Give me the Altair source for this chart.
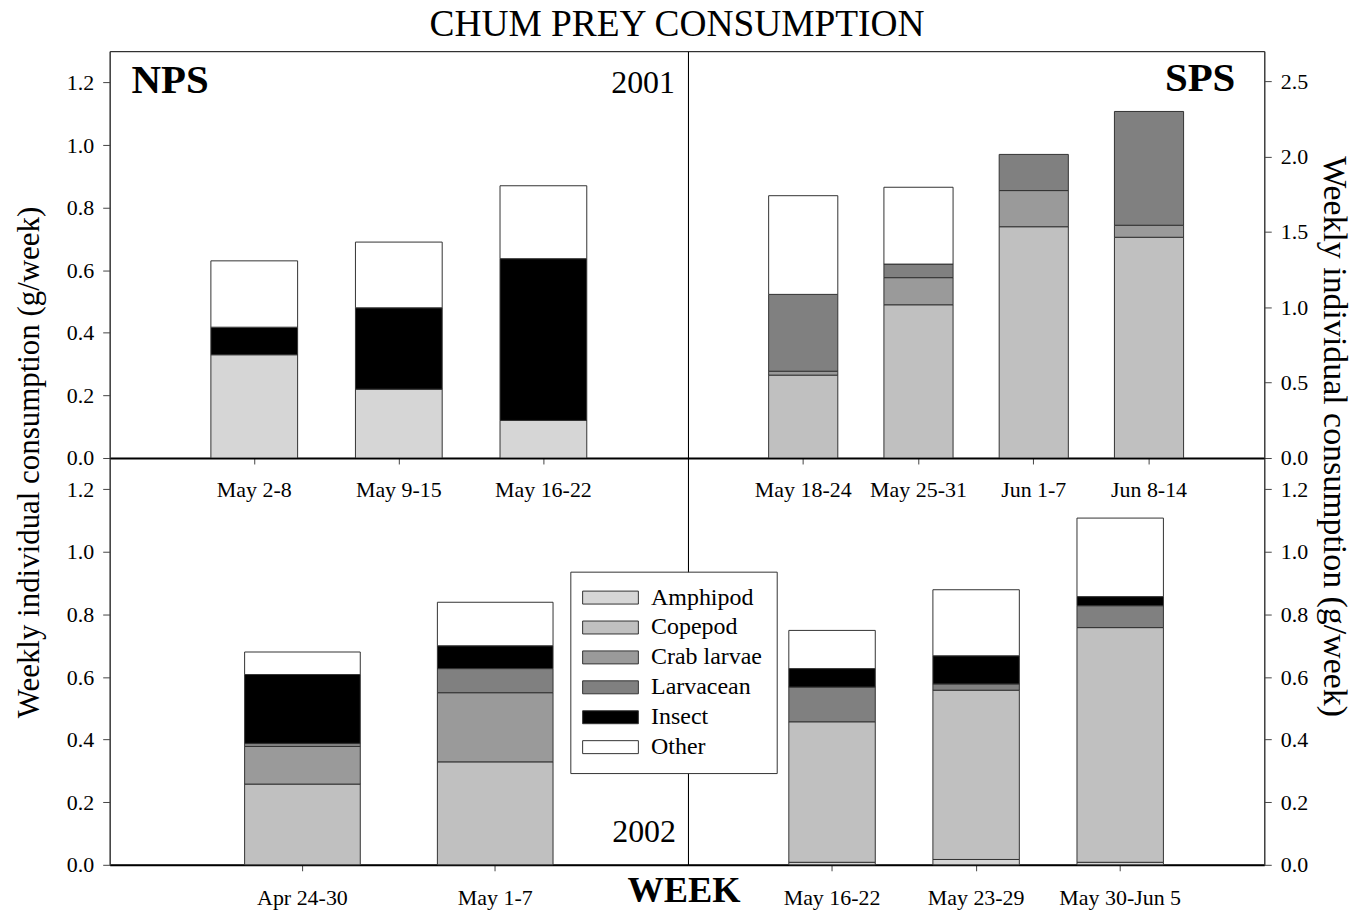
import altair as alt
import pandas as pd

FONT = "Liberation Serif"

PREY = ["Amphipod", "Copepod", "Crab larvae", "Larvacean", "Insect", "Other"]
SHADES = ["#d6d6d6", "#c0c0c0", "#9a9a9a", "#808080", "#000000", "#ffffff"]

# North Puget Sound, 2001 (g/week per fish, by prey group)
nps01_weeks = ["May 2-8", "May 9-15", "May 16-22"]
nps01_amphipod = [0.33, 0.22, 0.12]
nps01_copepod = [0.0, 0.0, 0.0]
nps01_crab = [0.0, 0.0, 0.0]
nps01_larvacean = [0.0, 0.0, 0.0]
nps01_insect = [0.088, 0.26, 0.517]
nps01_other = [0.212, 0.21, 0.233]

# South Puget Sound, 2001
sps01_weeks = ["May 18-24", "May 25-31", "Jun 1-7", "Jun 8-14"]
sps01_amphipod = [0.0, 0.0, 0.0, 0.0]
sps01_copepod = [0.55, 1.017, 1.535, 1.465]
sps01_crab = [0.026, 0.18, 0.24, 0.08]
sps01_larvacean = [0.51, 0.09, 0.24, 0.755]
sps01_insect = [0.0, 0.0, 0.0, 0.0]
sps01_other = [0.655, 0.51, 0.0, 0.0]

# North Puget Sound, 2002
nps02_weeks = ["Apr 24-30", "May 1-7"]
nps02_amphipod = [0.0, 0.0]
nps02_copepod = [0.258, 0.329]
nps02_crab = [0.12, 0.221]
nps02_larvacean = [0.01, 0.077]
nps02_insect = [0.22, 0.073]
nps02_other = [0.072, 0.139]

# South Puget Sound, 2002
sps02_weeks = ["May 16-22", "May 23-29", "May 30-Jun 5"]
sps02_amphipod = [0.008, 0.017, 0.008]
sps02_copepod = [0.449, 0.541, 0.75]
sps02_crab = [0.0, 0.0, 0.0]
sps02_larvacean = [0.111, 0.02, 0.07]
sps02_insect = [0.059, 0.09, 0.029]
sps02_other = [0.122, 0.211, 0.251]


def table(weeks, *groups):
    rows = []
    for i, wk in enumerate(weeks):
        for k, (name, vals) in enumerate(zip(PREY, groups)):
            if vals[i] > 0:
                rows.append({"week": wk, "prey": name, "rank": k, "value": vals[i]})
    return pd.DataFrame(rows)


LEGEND = alt.Legend(
    title=None,
    orient="none",
    legendX=462,
    legendY=522,
    direction="vertical",
    symbolType="M-2.1,-1H6.5V1H-2.1Z",
    symbolSize=169,
    symbolStrokeColor="#333333",
    symbolStrokeWidth=1,
    symbolOpacity=1,
    labelFont=FONT,
    labelFontSize=24,
    labelColor="black",
    labelOffset=43,
    rowPadding=6,
    padding=14,
    fillColor="white",
    strokeColor="#333333",
)


def label(text, x, y, size, align="left", weight="normal"):
    return alt.Chart(pd.DataFrame({"t": [text]})).mark_text(
        font=FONT, fontSize=size, fontWeight=weight, align=align,
        baseline="alphabetic", color="black",
    ).encode(x=alt.value(x), y=alt.value(y), text="t:N")


def panel(df, weeks, ymax, ticks, orient, width, ytitle=None, title_x=0, title_y=0,
          title_angle=270, title_size=31, label_pad=15):
    yaxis_kw = dict(
        orient=orient, values=ticks, format=".1f", grid=False, tickSize=7,
        labelPadding=9, labelFont=FONT, labelFontSize=22, labelColor="black",
        domainColor="#444444", tickColor="#444444",
    )
    if ytitle:
        yaxis_kw.update(
            title=ytitle, titleFont=FONT, titleFontSize=title_size,
            titleFontWeight="normal", titleColor="black", titleAngle=title_angle,
            titleX=title_x, titleY=title_y, titleAlign="center",
            titleBaseline="alphabetic",
        )
    else:
        yaxis_kw.update(title=None)
    return alt.Chart(df).mark_bar(stroke="#333333", strokeWidth=1).encode(
        x=alt.X(
            "week:N", sort=weeks,
            scale=alt.Scale(paddingInner=0.4, paddingOuter=0.7),
            axis=alt.Axis(
                title=None, labelAngle=0, tickSize=6, labelPadding=label_pad,
                labelFont=FONT, labelFontSize=22, labelColor="black",
                domainWidth=2, domainColor="black", tickColor="#444444",
            ),
        ),
        y=alt.Y(
            "value:Q", stack="zero",
            scale=alt.Scale(domain=[0, ymax], nice=False, zero=True),
            axis=alt.Axis(**yaxis_kw),
        ),
        color=alt.Color("prey:N", scale=alt.Scale(domain=PREY, range=SHADES), legend=LEGEND),
        order=alt.Order("rank:Q", sort="ascending"),
    ).properties(width=width, height=408)


TICKS_13 = [0.0, 0.2, 0.4, 0.6, 0.8, 1.0, 1.2]
TICKS_27 = [0.0, 0.5, 1.0, 1.5, 2.0, 2.5]
YTITLE = "Weekly individual consumption (g/week)"

nps01 = table(nps01_weeks, nps01_amphipod, nps01_copepod, nps01_crab,
              nps01_larvacean, nps01_insect, nps01_other)
sps01 = table(sps01_weeks, sps01_amphipod, sps01_copepod, sps01_crab,
              sps01_larvacean, sps01_insect, sps01_other)
nps02 = table(nps02_weeks, nps02_amphipod, nps02_copepod, nps02_crab,
              nps02_larvacean, nps02_insect, nps02_other)
sps02 = table(sps02_weeks, sps02_amphipod, sps02_copepod, sps02_crab,
              sps02_larvacean, sps02_insect, sps02_other)

top_left = alt.layer(
    panel(nps01, nps01_weeks, 1.3, TICKS_13, "left", 580, YTITLE,
          title_x=-71.5, title_y=412, title_angle=270, title_size=31, label_pad=16),
    label("NPS", 22, 42, 41, weight="bold"),
    label("2001", 567, 42, 32, align="right"),
    label("CHUM PREY CONSUMPTION", 569, -15, 37.5, align="center"),
)
top_right = alt.layer(
    panel(sps01, sps01_weeks, 2.7, TICKS_27, "right", 578, YTITLE,
          title_x=59, title_y=386, title_angle=90, title_size=34, label_pad=16),
    label("SPS", 549, 40, 41, align="right", weight="bold"),
)
bottom_left = alt.layer(
    panel(nps02, nps02_weeks, 1.3, TICKS_13, "left", 580, label_pad=17),
    label("2002", 568, 385, 32, align="right"),
    label("WEEK", 576, 445, 36.5, align="center", weight="bold"),
)
bottom_right = panel(sps02, sps02_weeks, 1.3, TICKS_13, "right", 578, label_pad=17)

chart = (
    alt.concat(top_left, top_right, bottom_left, bottom_right,
               columns=2, spacing=0, bounds="flush")
    .resolve_scale(x="independent", y="independent", color="shared")
    .properties(padding={"left": 12, "top": 4, "right": 5, "bottom": 5}, background="white")
    .configure_view(stroke="black", strokeWidth=1)
    .configure_axis(labelFont=FONT, titleFont=FONT)
)

chart.save("out.html", embed_options={"renderer": "svg", "actions": False})
